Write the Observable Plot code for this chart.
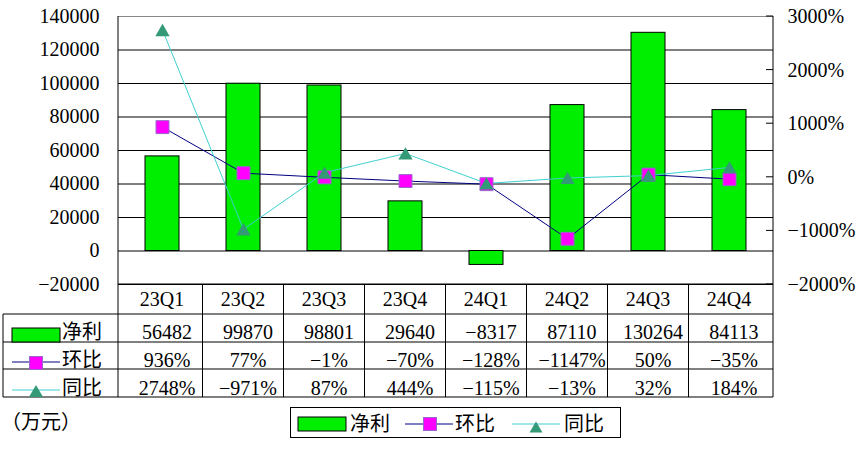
<!DOCTYPE html>
<html><head><meta charset="utf-8">
<script src="https://cdn.jsdelivr.net/npm/d3@7"></script>
<script src="https://cdn.jsdelivr.net/npm/@observablehq/plot@0.6"></script>
<style>html,body{margin:0;padding:0;background:#fff;} svg{display:block}</style>
</head><body><div id="chart"></div>
<script>
const quarters = ["23Q1","23Q2","23Q3","23Q4","24Q1","24Q2","24Q3","24Q4"];
const netProfit = [56482, 99870, 98801, 29640, -8317, 87110, 130264, 84113];
const qoq = [936, 77, -1, -70, -128, -1147, 50, -35];
const yoy = [2748, -971, 87, 444, -115, -13, 32, 184];
const leftTicks = [-20000, 0, 20000, 40000, 60000, 80000, 100000, 120000, 140000];
const rightTicks = [-2000, -1000, 0, 1000, 2000, 3000];
const seriesNames = ["净利", "环比", "同比"];
const unitLabel = "（万元）";

const rows = quarters.map((q, i) => ({q, net: netProfit[i], qoq: qoq[i], yoy: yoy[i]}));
// right axis [-2000%, 3000%] shares the frame with left axis [-20000, 140000]
const pctToLeft = p => p * 32 + 44000;
const leftToPct = v => Math.round((v - 44000) / 32);
const fmtNum = v => v < 0 ? "\u2212" + Math.abs(v) : String(v);
const fmtPct = v => fmtNum(v) + "%";

const W = 862, H = 452, mt = 16, mb = 168, ml = 118, mr = 89;
const FONT = "'Liberation Serif', 'Noto Sans CJK SC', serif";
const GREEN = "#00ee00", NAVY = "#000080", CYAN = "#40d0d0", MAG = "#ff00ff", MAGS = "#9966cc", TEAL = "#339977";

const plot = Plot.plot({
  width: W, height: H, marginTop: mt, marginBottom: mb, marginLeft: ml, marginRight: mr,
  style: {fontFamily: FONT, fontSize: "20px", color: "#000", background: "#fff", overflow: "visible"},
  x: {domain: quarters, paddingInner: 0.585, paddingOuter: 0.2925, axis: null},
  y: {domain: [-20000, 140000], axis: null},
  marks: [
    Plot.ruleY(leftTicks.filter(d => d < 140000), {stroke: "#000", strokeWidth: 1}),
    Plot.ruleY([140000], {stroke: "#888", strokeWidth: 1}),
    Plot.barY(rows, {x: "q", y: "net", fill: GREEN, stroke: "#000", strokeWidth: 1}),
    Plot.line(rows, {x: "q", y: d => pctToLeft(d.qoq), stroke: NAVY, strokeWidth: 1}),
    Plot.line(rows, {x: "q", y: d => pctToLeft(d.yoy), stroke: CYAN, strokeWidth: 1}),
    Plot.dot(rows, {x: "q", y: d => pctToLeft(d.qoq), symbol: "square", r: 7.3, fill: MAG, stroke: MAGS, strokeWidth: 1}),
    Plot.dot(rows, {x: "q", y: d => pctToLeft(d.yoy), symbol: "triangle", r: 5.3, dy: 2, fill: TEAL, stroke: "none"}),
    Plot.axisY(leftTicks, {anchor: "left", label: null, tickSize: 0, tickPadding: 19, tickFormat: fmtNum, fontSize: 20}),
    Plot.axisY(rightTicks.map(pctToLeft), {anchor: "right", label: null, tickSize: 0, tickPadding: 14, tickFormat: d => fmtPct(leftToPct(d)), fontSize: 20})
  ]
});
document.getElementById("chart").appendChild(plot);

const svg = d3.select(plot);
const xs = plot.scale("x"), ys = plot.scale("y");
const cx = q => xs.apply(q) + xs.bandwidth / 2;
const step = xs.step;
const xL = ml, xR = W - mr;
const yTop = ys.apply(140000), yBot = ys.apply(-20000);
const rowY = [yBot, 314, 342, 369, 397];
const base = [306, 339, 367, 395];

const g = svg.append("g").attr("stroke", "#000").attr("stroke-width", 1).attr("fill", "none");
// axis lines
g.append("line").attr("x1", xL).attr("x2", xL).attr("y1", yTop).attr("y2", rowY[4]);
g.append("line").attr("x1", xR).attr("x2", xR).attr("y1", yTop).attr("y2", rowY[4]);
// inward ticks on right axis
rightTicks.forEach(p => {
  const y = ys.apply(pctToLeft(p));
  g.append("line").attr("x1", xR - 7).attr("x2", xR).attr("y1", y).attr("y2", y);
});
// table horizontal lines
g.append("line").attr("x1", xL).attr("x2", xR).attr("y1", rowY[0]).attr("y2", rowY[0]);
for (let i = 1; i < 5; i++) g.append("line").attr("x1", 3).attr("x2", xR).attr("y1", rowY[i]).attr("y2", rowY[i]);
g.append("line").attr("x1", 3).attr("x2", 3).attr("y1", rowY[1]).attr("y2", rowY[4]);
quarters.forEach((q, i) => {
  if (i === 0) return;
  const x = cx(q) - step / 2;
  g.append("line").attr("x1", x).attr("x2", x).attr("y1", rowY[0]).attr("y2", rowY[4]);
});

const t = svg.append("g").attr("font-family", FONT).attr("font-size", 20).attr("fill", "#000").attr("text-anchor", "start");
quarters.forEach((q, i) => {
  const x = cx(q);
  t.append("text").attr("x", x).attr("y", base[0]).attr("text-anchor", "middle").text(q);
  t.append("text").attr("x", x + 5).attr("y", base[1]).attr("text-anchor", "middle").text(fmtNum(netProfit[i]));
  t.append("text").attr("x", x + 5).attr("y", base[2]).attr("text-anchor", "middle").text(fmtPct(qoq[i]));
  t.append("text").attr("x", x + 5).attr("y", base[3]).attr("text-anchor", "middle").text(fmtPct(yoy[i]));
});

// legend keys
function keyBar(parent, x, y, w, h) {
  parent.append("rect").attr("x", x).attr("y", y).attr("width", w).attr("height", h).attr("fill", GREEN).attr("stroke", "#000");
}
function keyLine(parent, x1, x2, y, color) {
  parent.append("line").attr("x1", x1).attr("x2", x2).attr("y1", y).attr("y2", y).attr("stroke", color).attr("stroke-width", 1);
}
function keySquare(parent, x, y, s) {
  parent.append("rect").attr("x", x - s / 2).attr("y", y - s / 2).attr("width", s).attr("height", s).attr("fill", MAG).attr("stroke", MAGS);
}
function keyTri(parent, x, y, w, h) {
  parent.append("path").attr("d", `M${x},${y - h / 2}L${x + w / 2},${y + h / 2}L${x - w / 2},${y + h / 2}Z`).attr("fill", TEAL);
}
const k = svg.append("g");
// table row keys
keyBar(k, 12, 328, 48, 14);
keyLine(k, 12, 60, 362, NAVY); keySquare(k, 36, 363, 13);
keyLine(k, 12, 60, 390, CYAN); keyTri(k, 36, 391, 14, 12);
t.append("text").attr("x", 62).attr("y", base[1]).text(seriesNames[0]);
t.append("text").attr("x", 62).attr("y", base[2]).text(seriesNames[1]);
t.append("text").attr("x", 62).attr("y", base[3]).text(seriesNames[2]);

// bottom legend box
k.append("rect").attr("x", 290.5).attr("y", 407.5).attr("width", 330).attr("height", 30).attr("fill", "none").attr("stroke", "#000");
keyBar(k, 298, 417, 48, 14);
keyLine(k, 405, 453, 424, NAVY); keySquare(k, 430, 424, 13);
keyLine(k, 512, 560, 424, CYAN); keyTri(k, 536, 427, 13, 11);
t.append("text").attr("x", 350).attr("y", 431).text(seriesNames[0]);
t.append("text").attr("x", 455).attr("y", 431).text(seriesNames[1]);
t.append("text").attr("x", 564).attr("y", 431).text(seriesNames[2]);

t.append("text").attr("x", 1).attr("y", 429).attr("font-size", 20).text(unitLabel);
</script>
</body></html>
